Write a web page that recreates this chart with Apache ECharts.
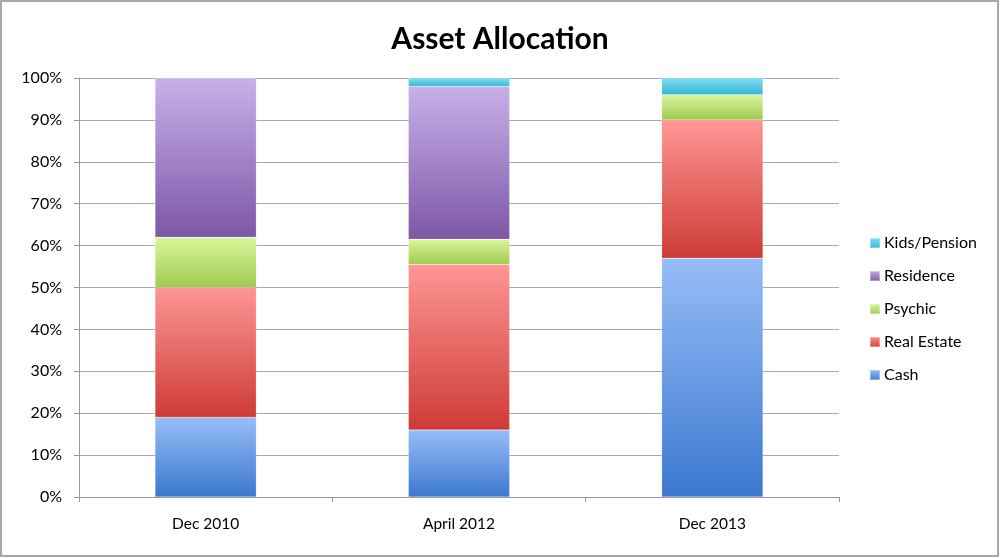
<!DOCTYPE html>
<html>
<head>
<meta charset="utf-8">
<script src="https://cdn.jsdelivr.net/npm/echarts@6/dist/echarts.min.js"></script>
<style>
html,body{margin:0;padding:0;background:#fff;}
#chart{width:1000px;height:558px;}
</style>
</head>
<body>
<div id="chart"></div>
<script>
const categories = ['Dec 2010', 'April 2012', 'Dec 2013'];
const cash = [19, 16, 57];
const realEstate = [31, 39.5, 33];
const psychic = [12, 6, 6];
const residence = [38, 36.5, 0];
const kidsPension = [0, 2, 4];
const yTicks = [0, 10, 20, 30, 40, 50, 60, 70, 80, 90, 100];

function grad(top, bottom) {
  return new echarts.graphic.LinearGradient(0, 0, 0, 1, [
    { offset: 0, color: top },
    { offset: 1, color: bottom }
  ]);
}
const FONT = 'Lato, "Open Sans", sans-serif';

function series(name, data, top, bottom) {
  return {
    name: name,
    type: 'bar',
    stack: 'total',
    barWidth: '40%',
    data: data,
    itemStyle: { color: grad(top, bottom), borderColor: 'rgba(255,255,255,0.35)', borderWidth: 0.5 },
    emphasis: { disabled: true }
  };
}

const chart = echarts.init(document.getElementById('chart'));
chart.setOption({
  animation: false,
  backgroundColor: '#fff',
  title: {
    text: 'Asset Allocation',
    left: 'center',
    top: 19,
    textStyle: { fontFamily: FONT, fontSize: 30, fontWeight: 'bold', color: '#000' }
  },
  graphic: [{
    type: 'rect',
    shape: { x: 1, y: 1, width: 997, height: 555 },
    style: { fill: 'none', stroke: '#a8a8a8', lineWidth: 2 },
    silent: true
  }],
  legend: {
    orient: 'vertical',
    left: 864,
    top: 230,
    icon: 'rect',
    itemWidth: 10,
    itemHeight: 10,
    itemGap: 17,
    textStyle: { fontFamily: FONT, fontSize: 16, color: '#000', padding: [0, 0, 0, -1] },
    data: ['Kids/Pension', 'Residence', 'Psychic', 'Real Estate', 'Cash']
  },
  grid: { left: 79, right: 161, top: 78, bottom: 61, containLabel: false },
  xAxis: {
    type: 'category',
    data: categories,
    axisLine: { show: true, lineStyle: { color: '#999', width: 1 } },
    axisTick: { show: true, length: 5, lineStyle: { color: '#999' } },
    axisLabel: { fontFamily: FONT, fontSize: 15.5, color: '#000', margin: 19 }
  },
  yAxis: {
    type: 'value',
    min: 0,
    max: 100,
    interval: 10,
    axisLine: { show: true, lineStyle: { color: '#999', width: 1 } },
    axisTick: { show: true, length: 5, lineStyle: { color: '#999' } },
    axisLabel: {
      fontFamily: FONT, fontSize: 16, color: '#000', margin: 17,
      formatter: function (v) { return yTicks.indexOf(v) >= 0 ? v + '%' : ''; }
    },
    splitLine: { show: true, lineStyle: { color: '#aaa', width: 1 } }
  },
  series: [
    series('Cash', cash, '#97bdf7', '#3b78cf'),
    series('Real Estate', realEstate, '#fe9694', '#ce3b37'),
    series('Psychic', psychic, '#d9f79c', '#9fca4f'),
    series('Residence', residence, '#c8b0ea', '#7d57a6'),
    series('Kids/Pension', kidsPension, '#7fdff3', '#34b5d7')
  ]
});
</script>
</body>
</html>
